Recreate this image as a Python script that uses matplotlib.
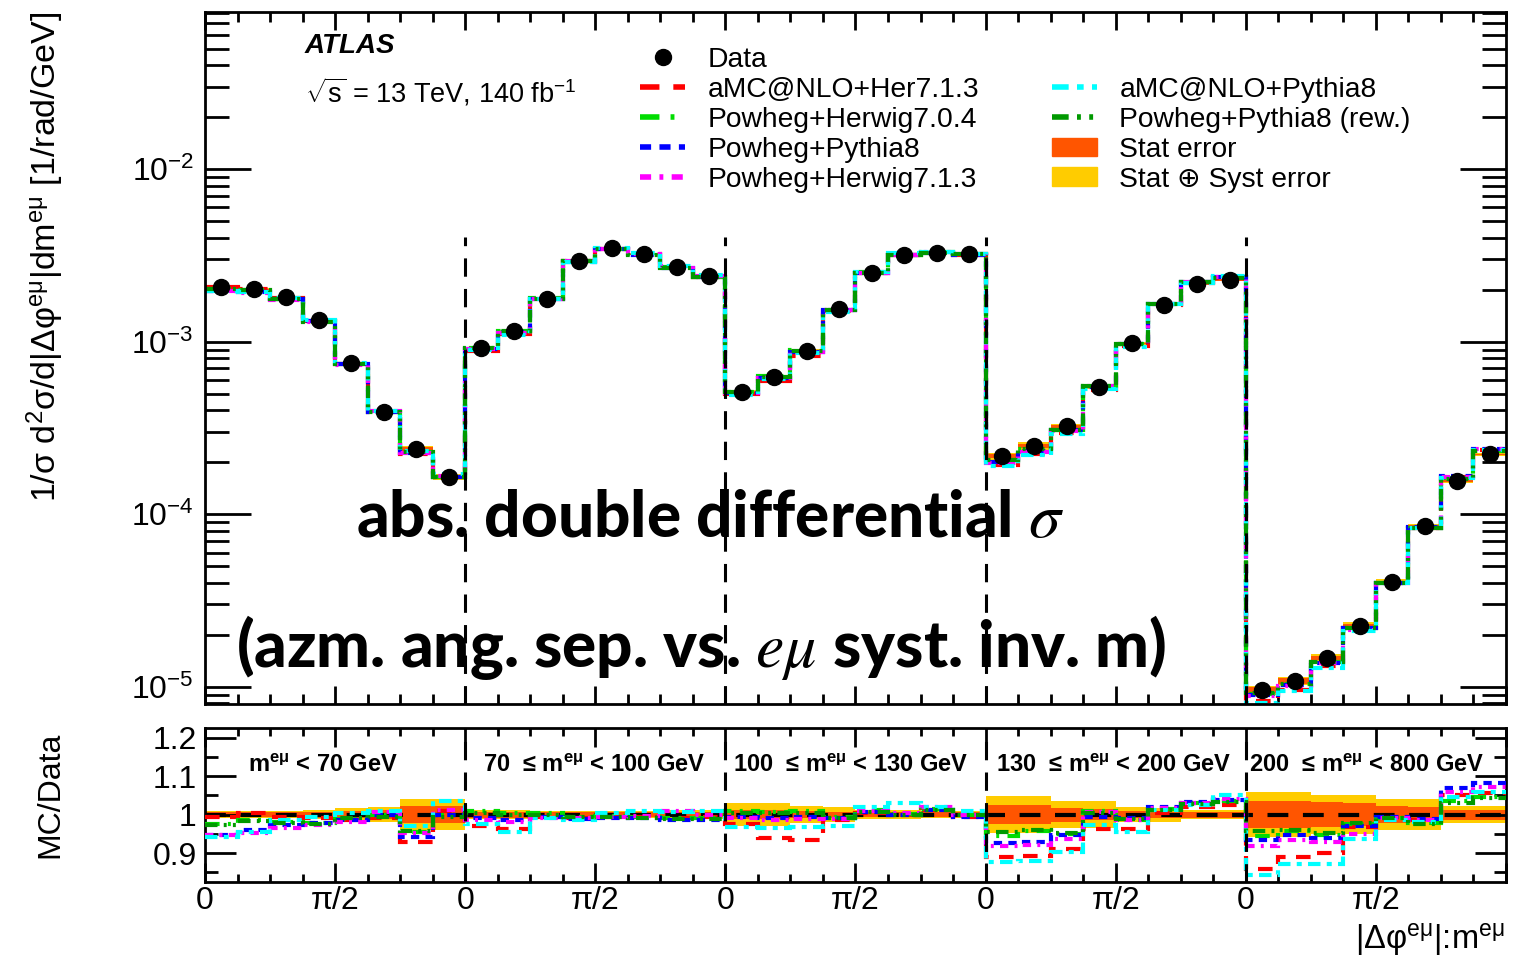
import numpy as np
import matplotlib
matplotlib.use("Agg")
import matplotlib.pyplot as plt
from matplotlib.lines import Line2D
from matplotlib.patches import Patch
from matplotlib.ticker import FixedLocator, FixedFormatter, LogLocator, LogFormatterSciNotation, NullFormatter

plt.rcParams['font.family'] = ['Liberation Sans', 'DejaVu Sans']
plt.rcParams['mathtext.fontset'] = 'custom'
plt.rcParams['mathtext.rm'] = 'Liberation Sans'
plt.rcParams['mathtext.it'] = 'Liberation Sans:italic'
plt.rcParams['mathtext.bf'] = 'Liberation Sans:bold'

# ---------------- data ----------------
mass_labels = [r"m$^{\mathbf{e\mu}}$ < 70 GeV",
               r"70  ≤ m$^{\mathbf{e\mu}}$ < 100 GeV",
               r"100  ≤ m$^{\mathbf{e\mu}}$ < 130 GeV",
               r"130  ≤ m$^{\mathbf{e\mu}}$ < 200 GeV",
               r"200  ≤ m$^{\mathbf{e\mu}}$ < 800 GeV"]
bins_per_block = 8

data_m1 = [2.08e-3, 2.02e-3, 1.81e-3, 1.34e-3, 7.50e-4, 3.93e-4, 2.39e-4, 1.65e-4]
data_m2 = [9.16e-4, 1.15e-3, 1.78e-3, 2.95e-3, 3.48e-3, 3.22e-3, 2.72e-3, 2.40e-3]
data_m3 = [5.09e-4, 6.26e-4, 8.83e-4, 1.54e-3, 2.49e-3, 3.18e-3, 3.25e-3, 3.21e-3]
data_m4 = [2.17e-4, 2.49e-4, 3.24e-4, 5.48e-4, 9.79e-4, 1.63e-3, 2.15e-3, 2.28e-3]
data_m5 = [9.57e-6, 1.08e-5, 1.47e-5, 2.25e-5, 4.04e-5, 8.49e-5, 1.56e-4, 2.22e-4]

stat_err = [0.007, 0.007, 0.007, 0.008, 0.010, 0.012, 0.022, 0.022,
            0.008, 0.008, 0.007, 0.007, 0.006, 0.006, 0.006, 0.007,
            0.012, 0.012, 0.010, 0.008, 0.007, 0.007, 0.007, 0.007,
            0.025, 0.025, 0.018, 0.015, 0.010, 0.008, 0.008, 0.008,
            0.035, 0.035, 0.032, 0.030, 0.022, 0.020, 0.013, 0.013]
tot_err = [0.010, 0.010, 0.010, 0.012, 0.018, 0.020, 0.040, 0.040,
           0.012, 0.012, 0.010, 0.010, 0.010, 0.010, 0.012, 0.012,
           0.030, 0.030, 0.022, 0.020, 0.012, 0.012, 0.010, 0.010,
           0.048, 0.048, 0.035, 0.035, 0.020, 0.018, 0.012, 0.012,
           0.058, 0.058, 0.050, 0.050, 0.040, 0.040, 0.022, 0.022]

# MC / Data ratios
ratio_amcnlo_her713 = [0.994, 1.005, 0.994, 0.990, 0.985, 0.990, 0.930, 1.010,
                       0.970, 0.962, 0.995, 0.990, 0.993, 0.995, 0.990, 0.995,
                       0.975, 0.940, 0.935, 0.985, 1.005, 0.998, 1.012, 0.995,
                       0.890, 0.892, 0.912, 0.963, 0.963, 1.005, 1.020, 1.025,
                       0.860, 0.890, 0.900, 0.968, 0.992, 0.985, 1.050, 1.055]
ratio_powheg_her704 = [0.975, 0.985, 0.980, 0.978, 0.988, 0.998, 0.955, 0.998,
                       1.010, 1.005, 1.005, 0.995, 0.997, 0.995, 0.992, 0.990,
                       1.010, 1.008, 1.010, 0.995, 1.012, 1.002, 1.015, 1.000,
                       0.945, 0.958, 0.950, 1.010, 0.985, 1.015, 1.030, 1.035,
                       0.945, 0.958, 0.946, 0.975, 0.990, 0.978, 1.035, 1.045]
ratio_powheg_py8 = [0.948, 0.960, 0.972, 0.978, 0.985, 0.998, 0.942, 0.998,
                    0.990, 0.985, 0.995, 0.988, 0.992, 0.990, 0.985, 0.985,
                    0.995, 0.990, 0.993, 0.992, 1.008, 0.998, 1.012, 0.995,
                    0.925, 0.930, 0.946, 0.994, 0.990, 1.020, 1.032, 1.038,
                    0.933, 0.946, 0.940, 0.970, 0.995, 0.988, 1.068, 1.083]
ratio_powheg_her713 = [0.946, 0.952, 0.965, 0.972, 0.980, 1.008, 0.952, 1.012,
                       0.985, 0.980, 0.992, 0.990, 0.995, 0.997, 1.010, 1.000,
                       0.990, 0.985, 0.988, 0.988, 1.010, 1.005, 1.020, 0.998,
                       0.918, 0.920, 0.937, 1.008, 0.985, 1.018, 1.030, 1.040,
                       0.918, 0.933, 0.930, 0.950, 0.990, 0.985, 1.060, 1.072]
ratio_amcnlo_py8 = [0.943, 0.955, 0.985, 0.994, 1.003, 1.010, 0.970, 1.035,
                    0.975, 0.955, 0.990, 0.985, 1.005, 1.010, 1.008, 1.010,
                    0.968, 0.965, 0.968, 0.970, 1.020, 1.030, 1.020, 1.010,
                    0.877, 0.880, 0.903, 0.972, 0.955, 1.012, 1.025, 1.050,
                    0.842, 0.872, 0.872, 0.937, 0.985, 0.982, 1.046, 1.060]
ratio_powheg_py8_rew = [0.972, 0.983, 0.978, 0.975, 0.990, 0.995, 0.958, 0.995,
                        1.005, 1.000, 1.000, 0.993, 0.994, 0.990, 0.988, 0.988,
                        1.005, 1.003, 1.005, 0.990, 1.008, 1.000, 1.012, 0.998,
                        0.955, 0.960, 0.952, 1.005, 0.988, 1.012, 1.028, 1.033,
                        0.958, 0.960, 0.952, 0.978, 0.992, 0.976, 1.030, 1.042]

series_names = ["aMC@NLO+Her7.1.3", "Powheg+Herwig7.0.4", "Powheg+Pythia8",
                "Powheg+Herwig7.1.3", "aMC@NLO+Pythia8", "Powheg+Pythia8 (rew.)"]
series_ratios = [ratio_amcnlo_her713, ratio_powheg_her704, ratio_powheg_py8,
                 ratio_powheg_her713, ratio_amcnlo_py8, ratio_powheg_py8_rew]
series_colors = ["#FF0000", "#00DD00", "#0000FF", "#FF00FF", "#00FFFF", "#009900"]
series_dashes = [(0, (3.5, 2.5)), (0, (3.5, 2.0, 0.7, 2.0)), (0, (2.0, 1.5)),
                 (0, (2.0, 1.5, 0.7, 1.5)), (0, (3.0, 1.5, 1.2, 1.5)),
                 (0, (3.0, 1.5, 0.7, 1.5, 0.7, 1.5))]

# ---------------- derived ----------------
data = np.concatenate([data_m1, data_m2, data_m3, data_m4, data_m5])
n_blocks = 5
edges = np.linspace(0, n_blocks * np.pi, n_blocks * bins_per_block + 1)
centers = 0.5 * (edges[:-1] + edges[1:])
stat = np.array(stat_err)
tot = np.array(tot_err)

STAT_C = "#FF5500"
SYST_C = "#FFCC00"

fig = plt.figure(figsize=(15.24, 9.6), dpi=100)
W, H = 1524.0, 960.0
ax = fig.add_axes([205 / W, 1 - 704 / H, 1301 / W, 692.3 / H])
axr = fig.add_axes([205 / W, 1 - 882 / H, 1301 / W, 154 / H])

lw_mc = 3.0
# ---- main panel ----
ax.stairs(data * (1 + tot), edges, baseline=data * (1 - tot), fill=True, color=SYST_C, zorder=1)
ax.stairs(data * (1 + stat), edges, baseline=data * (1 - stat), fill=True, color=STAT_C, zorder=1.1)
for r, c, ls in zip(series_ratios, series_colors, series_dashes):
    ax.stairs(data * np.array(r), edges, baseline=None, color=c, lw=lw_mc, linestyle=ls, zorder=2)
ax.plot(centers, data, 'o', color='black', ms=11.5, zorder=5)

ax.set_yscale('log')
ylo, yhi = 10 ** -5.100, 10 ** -1.087
ax.set_ylim(ylo, yhi)
ax.set_xlim(0, n_blocks * np.pi)
ax.vlines(edges[bins_per_block:-1:bins_per_block], ylo, 4.05e-3, colors='black', lw=2.2,
          linestyles=[(0, (6, 4))], zorder=4)

# ---- ratio panel ----
ones = np.ones_like(data)
axr.stairs(ones + tot, edges, baseline=ones - tot, fill=True, color=SYST_C, zorder=1)
axr.stairs(ones + stat, edges, baseline=ones - stat, fill=True, color=STAT_C, zorder=1.1)
axr.axhline(1.0, color='black', lw=3, linestyle=(0, (5, 3.5)), zorder=2)
for r, c, ls in zip(series_ratios, series_colors, series_dashes):
    axr.stairs(np.array(r), edges, baseline=None, color=c, lw=lw_mc, linestyle=ls, zorder=3)
axr.set_xlim(0, n_blocks * np.pi)
axr.set_ylim(0.825, 1.225)
axr.vlines(edges[bins_per_block:-1:bins_per_block], 0.825, 1.225, colors='black', lw=2.2,
           linestyles=[(0, (6, 4))], zorder=4)

for i, lab in enumerate(mass_labels):
    off = [0.52, 0.217, 0.097, 0.12, 0.036][i]
    axr.text(edges[i * bins_per_block] + off, 1.127, lab, fontsize=17, fontweight='bold',
             ha='left', va='center', zorder=6)

# ---- ticks ----
major_x = np.arange(0, 2 * n_blocks + 1) * np.pi / 2
minor_x = np.arange(0, 8 * n_blocks + 1) * np.pi / 8
xlabels = [("0" if k % 2 == 0 else "π/2") if k < 2 * n_blocks else "" for k in range(2 * n_blocks + 1)]
for a in (ax, axr):
    a.xaxis.set_major_locator(FixedLocator(major_x))
    a.xaxis.set_minor_locator(FixedLocator(minor_x))
    a.tick_params(which='both', direction='in', top=True, right=True, width=2)
    for s in a.spines.values():
        s.set_linewidth(2)
ax.tick_params(axis='x', labelbottom=False)
ax.tick_params(axis='x', which='major', length=13)
ax.tick_params(axis='x', which='minor', length=7)
ax.tick_params(axis='y', which='major', length=33, labelsize=23, pad=8)
ax.tick_params(axis='y', which='minor', length=17)
ax.yaxis.set_major_locator(LogLocator(base=10, numticks=10))
ax.yaxis.set_major_formatter(LogFormatterSciNotation())
ax.yaxis.set_minor_locator(LogLocator(base=10, subs=np.arange(2, 10), numticks=20))
ax.yaxis.set_minor_formatter(NullFormatter())

axr.xaxis.set_major_formatter(FixedFormatter(xlabels))
axr.tick_params(axis='x', which='major', length=14, labelsize=23, pad=3)
axr.tick_params(axis='x', which='minor', length=6)
axr.yaxis.set_major_locator(FixedLocator([0.9, 1.0, 1.1, 1.2]))
axr.yaxis.set_major_formatter(FixedFormatter(["0.9", "1", "1.1", "1.2"]))
axr.yaxis.set_minor_locator(FixedLocator([0.85, 0.95, 1.05, 1.15]))
axr.tick_params(axis='y', which='major', length=22, labelsize=23, pad=6)
axr.tick_params(axis='y', which='minor', length=9)

# ---- labels ----
fig.text(45 / W, 1 - 12 / H,
         r"1/σ d$^{2}$σ/d|Δφ$^{\mathrm{e\mu}}$|dm$^{\mathrm{e\mu}}$ [1/rad/GeV]",
         rotation=90, ha='center', va='top', fontsize=24.5)
fig.text(50 / W, 1 - 795 / H, "MC/Data", rotation=90, ha='center', va='center', fontsize=23)
fig.text(1505 / W, 1 - 940 / H, r"|Δφ$^{\mathrm{e\mu}}$|:m$^{\mathrm{e\mu}}$",
         ha='right', va='center', fontsize=23.5)

ax.text(0.0769, 0.9505, "ATLAS", transform=ax.transAxes, fontsize=20, fontweight='bold',
        fontstyle='italic', ha='left', va='center')
ax.text(0.0769, 0.884, r"$\sqrt{\mathrm{s}}$ = 13 TeV, 140 fb$^{-1}$", transform=ax.transAxes,
        fontsize=19.5, ha='left', va='center')

# ---- legend ----
handles = [Line2D([], [], marker='o', color='black', ls='none', ms=11.5)]
for c, ls in zip(series_colors[:4], series_dashes[:4]):
    handles.append(Line2D([], [], color=c, lw=4, linestyle=ls))
handles.append(Line2D([], [], alpha=0))
for c, ls in zip(series_colors[4:], series_dashes[4:]):
    handles.append(Line2D([], [], color=c, lw=4, linestyle=ls))
handles += [Patch(color=STAT_C), Patch(color=SYST_C)]
labels = ["Data"] + series_names[:4] + [""] + series_names[4:] + ["Stat error", "Stat ⊕ Syst error"]
fig.legend(handles, labels, ncol=2, loc='upper left', bbox_to_anchor=(640 / W, 1 - 47 / H),
           bbox_transform=fig.transFigure, frameon=False, fontsize=20.3, numpoints=1,
           borderpad=0, borderaxespad=0, handlelength=1.6, handletextpad=0.8,
           columnspacing=2.57, labelspacing=0.14, handleheight=0.65)

# ---- overlay annotation ----
fig.text(710 / W, 1 - 518 / H, r"abs. double differential $\sigma$", fontsize=46,
         family=['Lato', 'DejaVu Sans'], fontweight='black', ha='center', va='center',
         math_fontfamily='stix', zorder=10)
fig.text(701 / W, 1 - 648 / H, r"(azm. ang. sep. vs. $e\mu$ syst. inv. m)", fontsize=46,
         family=['Lato', 'DejaVu Sans'], fontweight='black', ha='center', va='center',
         math_fontfamily='stix', zorder=10)

fig.savefig("out.png", dpi=100)
